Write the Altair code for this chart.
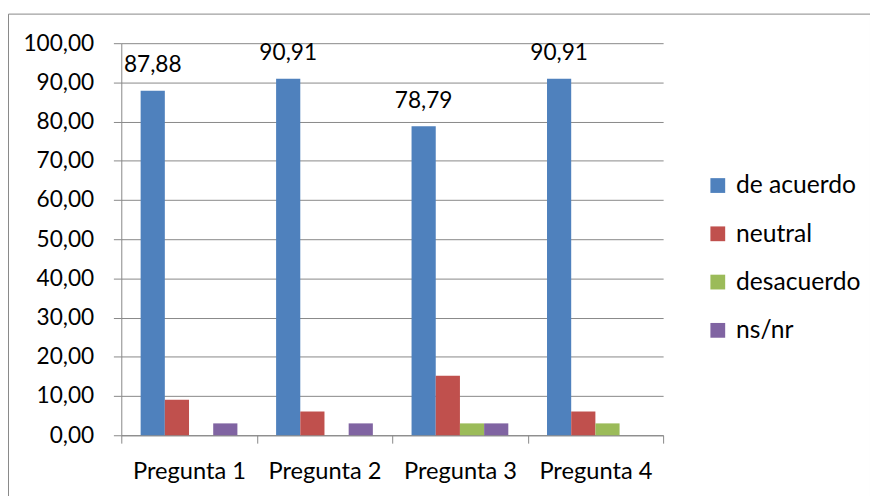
import altair as alt
import pandas as pd

preguntas = ["Pregunta 1", "Pregunta 2", "Pregunta 3", "Pregunta 4"]
series = ["de acuerdo", "neutral", "desacuerdo", "ns/nr"]
de_acuerdo = [87.88, 90.91, 78.79, 90.91]
neutral = [9.09, 6.06, 15.15, 6.06]
desacuerdo = [0.0, 0.0, 3.03, 3.03]
ns_nr = [3.03, 3.03, 3.03, 0.0]
colores = ["#4F81BD", "#C0504D", "#9BBB59", "#8064A2"]
y_ticks = [0, 10, 20, 30, 40, 50, 60, 70, 80, 90, 100]

rows = []
for serie, vals in zip(series, [de_acuerdo, neutral, desacuerdo, ns_nr]):
    for p, v in zip(preguntas, vals):
        rows.append({"pregunta": p, "serie": serie, "valor": v})
df = pd.DataFrame(rows)

FONT = "Lato"
GRAY = "#878787"

x_enc = alt.X(
    "pregunta:N", sort=preguntas,
    scale=alt.Scale(range=[115, 665], paddingInner=0, paddingOuter=0),
    axis=alt.Axis(title=None, orient="bottom", offset=-62, tickBand="extent",
                  tickSize=8, labelPadding=17, labelFontSize=24, labelFont=FONT,
                  labelColor="black", domainColor=GRAY, tickColor=GRAY,
                  labelAngle=0, grid=False),
)
xo_enc = alt.XOffset("serie:N", sort=series,
                     scale=alt.Scale(domain=series, paddingInner=0, paddingOuter=0.8))
y_enc = alt.Y(
    "valor:Q",
    scale=alt.Scale(domain=[0, 100], range=[428, 30], nice=False),
    axis=alt.Axis(title=None, offset=-115, values=y_ticks,
                  labelExpr="replace(format(datum.value, '.2f'), '.', ',')",
                  tickSize=8, labelPadding=20, labelFontSize=23, labelFont=FONT,
                  labelColor="black", domainColor=GRAY, tickColor=GRAY,
                  grid=True, gridColor=GRAY, gridWidth=1),
)
color_enc = alt.Color(
    "serie:N", sort=series,
    scale=alt.Scale(domain=series, range=colores),
    legend=alt.Legend(title=None, orient="none", legendX=708, legendY=162,
                      symbolType="square", symbolSize=225, symbolStrokeWidth=0,
                      labelFontSize=25, labelFont=FONT, labelColor="black",
                      labelOffset=6, rowPadding=23, padding=0),
)

bars = alt.Chart(df).mark_bar().encode(
    x=x_enc, xOffset=xo_enc, y=y_enc, color=color_enc
)

text = alt.Chart(df).transform_filter(
    alt.datum.serie == "de acuerdo"
).transform_calculate(
    etiqueta="replace(format(datum.valor, '.2f'), '.', ',')"
).mark_text(dy=-19, baseline="alphabetic", fontSize=23, font=FONT, color="black").encode(
    x=x_enc, xOffset=xo_enc, y=y_enc, text="etiqueta:N"
)

chart = alt.layer(bars, text).properties(
    width=875, height=490,
    padding={"left": 0, "top": 2, "right": 0, "bottom": 0},
    autosize=alt.AutoSizeParams(type="none"),
).configure_view(stroke=GRAY, strokeWidth=1)

chart.save("out.html", embed_options={"renderer": "svg", "actions": False})
